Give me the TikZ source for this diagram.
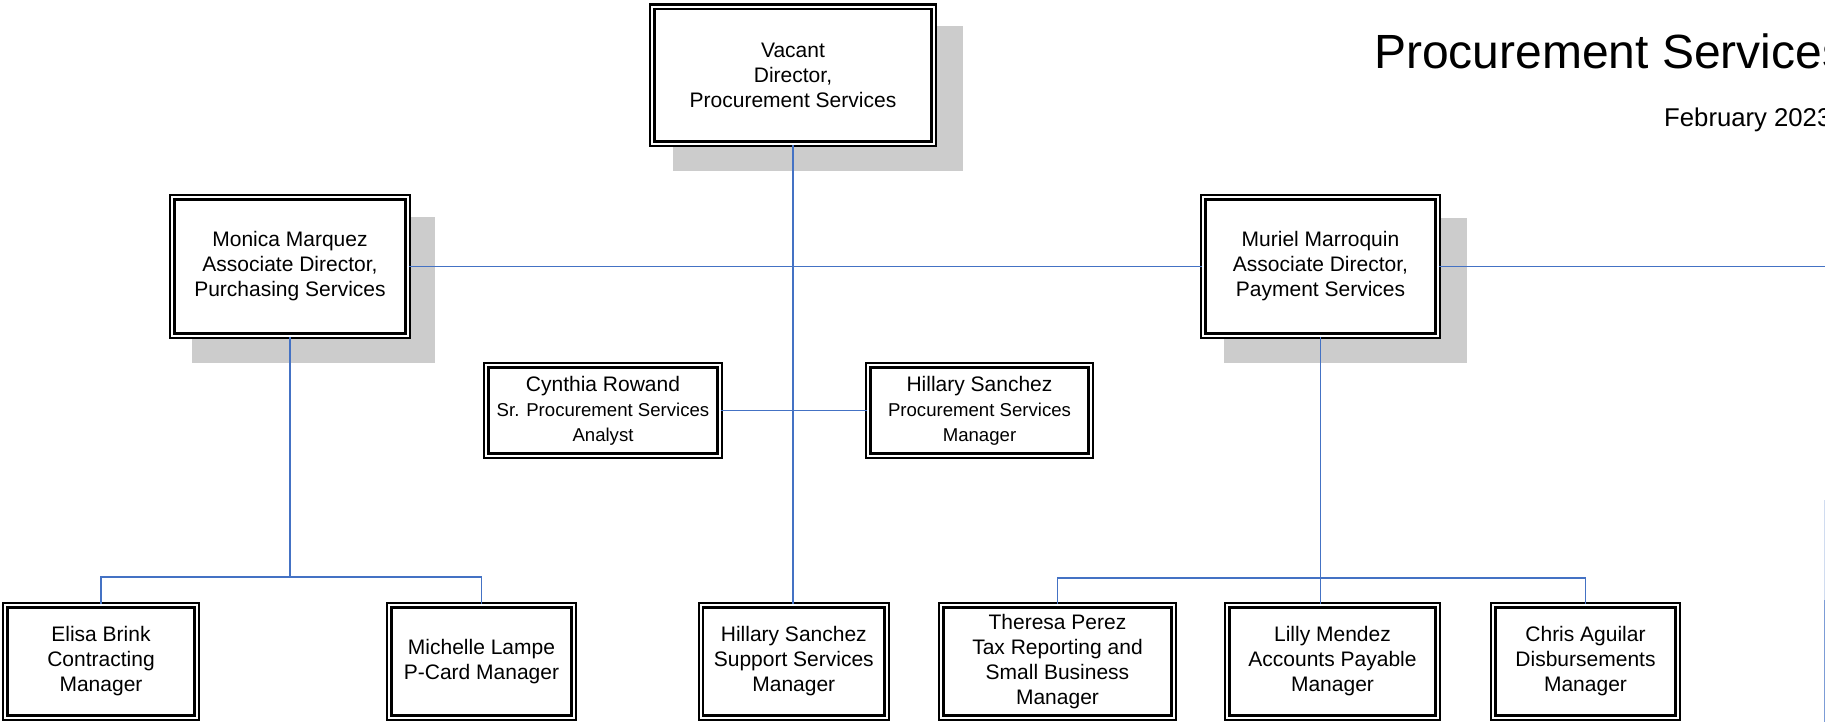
\documentclass[tikz,border=0pt]{standalone}
\usepackage{fontspec}
\setmainfont{Liberation Sans}
\definecolor{conn}{RGB}{68,114,196}
\definecolor{shade}{RGB}{204,204,204}
\begin{document}
\begin{tikzpicture}[x=1bp,y=-1bp,
  box/.style={draw=black, line width=2.3bp, double=white, double distance=2.1bp,
    fill=white, inner sep=0pt, align=center,
    font=\fontsize{21bp}{25bp}\selectfont,
    execute at begin node={\rule{0pt}{20bp}}},
  link/.style={draw=conn, line width=1.9bp},
  shadowrect/.style={fill=shade},
  small/.style={font=\fontsize{18.6bp}{23bp}\selectfont}]
\useasboundingbox (0,0) rectangle (1825,722);

% shadows
\fill[shadowrect] (673,26) rectangle (963,171);
\fill[shadowrect] (192,217) rectangle (435,363);
\fill[shadowrect] (1224,218) rectangle (1467,363);

% title
\node[anchor=base west, inner sep=0pt, font=\fontsize{48bp}{56bp}\selectfont] (title) at (1374,69) {Procurement Services};
\node[anchor=base west, inner sep=0pt, font=\fontsize{25.7bp}{30bp}\selectfont] (date) at (1664,127) {February 2023};

% box positions
\coordinate (pdir) at (793,75.25);
\coordinate (pmon) at (290,266.5);
\coordinate (pmur) at (1320.5,266.5);
\coordinate (pcyn) at (603,410.5);
\coordinate (phsp) at (979.5,410.5);
\coordinate (peli) at (101,661.5);
\coordinate (pmic) at (481.5,661.5);
\coordinate (phss) at (793.8,661.5);
\coordinate (pthe) at (1057.5,661.5);
\coordinate (plil) at (1332.5,661.5);
\coordinate (pchr) at (1585.5,661.5);

\node[box, minimum width=281.4bp, minimum height=136.9bp] (dir) at (pdir) {Vacant\\Director,\\Procurement Services};
\node[box, minimum width=235.4bp, minimum height=138.4bp] (mon) at (pmon) {Monica Marquez\\Associate Director,\\Purchasing Services};
\node[box, minimum width=234.4bp, minimum height=138.4bp] (mur) at (pmur) {Muriel Marroquin\\Associate Director,\\Payment Services};
\node[box, minimum width=233.4bp, minimum height=90.4bp] (cyn) at (pcyn) {Cynthia Rowand\\{\fontsize{18.6bp}{23bp}\selectfont Sr. Procurement Services}\\{\fontsize{18.6bp}{23bp}\selectfont Analyst}};
\node[box, minimum width=222.4bp, minimum height=90.4bp] (hsp) at (phsp) {Hillary Sanchez\\{\fontsize{18.6bp}{23bp}\selectfont Procurement Services}\\{\fontsize{18.6bp}{23bp}\selectfont Manager}};
\node[box, minimum width=191.4bp, minimum height=112.4bp] (eli) at (peli) {Elisa Brink\\Contracting\\Manager};
\node[box, minimum width=184.4bp, minimum height=112.4bp] (mic) at (pmic) {Michelle Lampe\\P-Card Manager};
\node[box, minimum width=185.9bp, minimum height=112.4bp] (hss) at (phss) {Hillary Sanchez\\Support Services\\Manager};
\node[box, minimum width=232.4bp, minimum height=112.4bp] (the) at (pthe) {Theresa Perez\\Tax Reporting and\\Small Business\\Manager};
\node[box, minimum width=210.4bp, minimum height=112.4bp] (lil) at (plil) {Lilly Mendez\\Accounts Payable\\Manager};
\node[box, minimum width=184.4bp, minimum height=112.4bp] (chr) at (pchr) {Chris Aguilar\\Disbursements\\Manager};

% connectors
\coordinate (redge) at (1830,266.5);
\coordinate (monbus) at (290,577);
\coordinate (murbus) at (1320.5,578);
\coordinate (fadetop) at (1824.5,500);
\coordinate (fademid) at (1824.5,600);
\coordinate (fadebot) at (1824.5,722);

\draw[link] (dir.south) -- (dir.south |- hss.north);
\draw[link] (mon.east) -- (mur.west);
\draw[link] (mur.east) -- (redge);
\draw[link] (cyn.east) -- (hsp.west);
\draw[link] (mon.south) -- (monbus);
\draw[link] (eli.north) -- (eli.north |- monbus) -- (mic.north |- monbus) -- (mic.north);
\draw[link] (mur.south) -- (mur.south |- lil.north);
\draw[link] (the.north) -- (the.north |- murbus) -- (chr.north |- murbus) -- (chr.north);
\draw[conn!25, line width=1.2bp] (fadetop) -- (fademid);
\draw[conn!70, line width=1.2bp] (fademid) -- (fadebot);
\end{tikzpicture}
\end{document}
